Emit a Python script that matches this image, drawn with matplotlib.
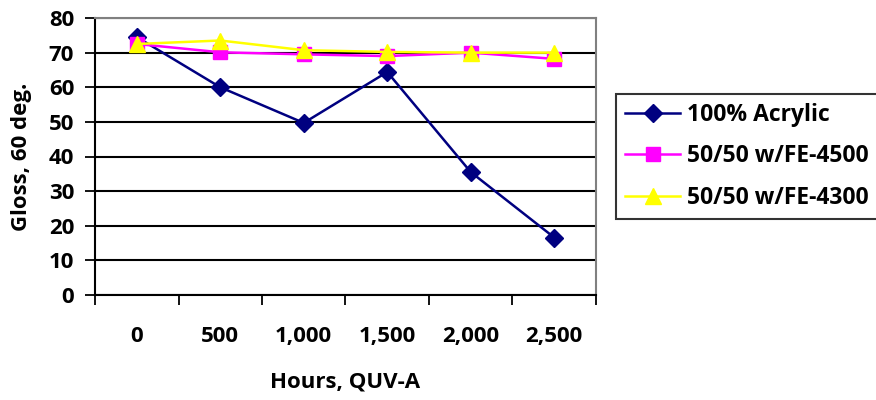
import numpy as np
import matplotlib
matplotlib.use("Agg")
import matplotlib.pyplot as plt

plt.rcParams['font.family'] = ['Open Sans', 'DejaVu Sans']
plt.rcParams['font.weight'] = 'bold'

hours = ["0", "500", "1,000", "1,500", "2,000", "2,500"]
acrylic = [74.5, 60.0, 49.7, 64.4, 35.5, 16.6]
fe4500 = [72.5, 70.1, 69.5, 69.0, 70.0, 68.2]
fe4300 = [72.5, 73.5, 70.7, 70.2, 70.0, 70.0]

fig = plt.figure(figsize=(8.76, 4.0), dpi=100)
ax = fig.add_axes([95 / 876, 105 / 400, 501 / 876, 277 / 400])

x = np.arange(len(hours))
ax.plot(x, acrylic, color='#000080', lw=1.8, marker='D', ms=9.5,
        label='100% Acrylic', zorder=3)
ax.plot(x, fe4500, color='#FF00FF', lw=1.8, marker='s', ms=9.5,
        label='50/50 w/FE-4500', zorder=4)
ax.plot(x, fe4300, color='#FFFF00', lw=1.8, marker='^', ms=11.5,
        label='50/50 w/FE-4300', zorder=5)

ax.set_xlim(-0.5, len(hours) - 0.5)
ax.set_ylim(0, 80)
ax.set_yticks(np.arange(0, 81, 10))
ax.yaxis.grid(True, color='black', lw=1.5)
ax.set_axisbelow(True)

# category axis: tick marks between categories, labels in the middle
ax.set_xticks(np.arange(-0.5, len(hours), 1.0))
ax.set_xticklabels([])
ax.set_xticks(x, minor=True)
ax.set_xticklabels(hours, minor=True, fontweight='bold')
ax.tick_params(axis='x', which='major', length=7, width=1.3, direction='out')
ax.tick_params(axis='x', which='minor', length=0, pad=22, labelsize=16)
ax.tick_params(axis='y', length=7, width=1.3, direction='out', pad=8, labelsize=16)
for t in ax.get_yticklabels():
    t.set_fontweight('bold')

for s in ['left', 'bottom']:
    ax.spines[s].set_color('black')
    ax.spines[s].set_linewidth(1.5)
for s in ['top', 'right']:
    ax.spines[s].set_color('#808080')
    ax.spines[s].set_linewidth(1.5)

ax.set_xlabel('Hours, QUV-A', fontsize=16, fontweight='bold', labelpad=18)
ax.set_ylabel('Gloss, 60 deg.', fontsize=16, fontweight='bold', labelpad=12)

leg = ax.legend(loc='upper left', bbox_to_anchor=(616 / 876, 306 / 400),
                bbox_transform=fig.transFigure, frameon=True, fancybox=False,
                prop={'size': 16.5, 'weight': 'bold'}, handlelength=2.4,
                borderpad=0.4, labelspacing=0.75,
                handletextpad=0.3, borderaxespad=0)
leg.get_frame().set_edgecolor('black')
leg.get_frame().set_linewidth(1.5)

fig.savefig('out.png', dpi=100)
